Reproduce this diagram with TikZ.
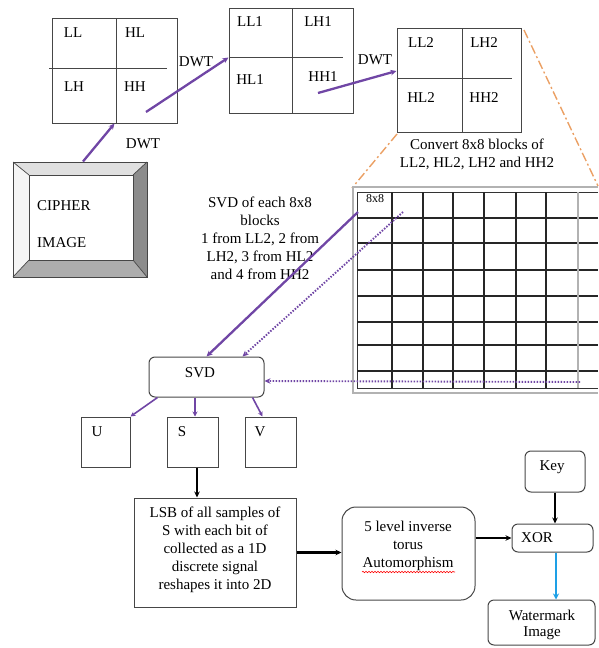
\documentclass[tikz,border=0pt]{standalone}
\usepackage{fontspec}
\setmainfont{Liberation Serif}
\usetikzlibrary{arrows.meta,decorations.pathmorphing,calc}
\definecolor{pur}{RGB}{112,70,165}
\definecolor{org}{RGB}{235,160,100}
\definecolor{bl}{RGB}{30,160,230}
\definecolor{bx}{RGB}{70,70,70}
\tikzset{
  box/.style={draw=bx, line width=1pt, inner sep=0pt},
  rbox/.style={box, rounded corners=6pt},
  txt/.style={font=\fontsize{15}{18}\selectfont, inner sep=0pt, align=center},
  parr/.style={draw=pur, line width=2.3pt, -{Stealth[length=6pt,width=5.5pt]}},
  parrs/.style={draw=pur, line width=1.6pt, -{Stealth[length=5pt,width=5pt]}},
  pdot/.style={draw=pur, line width=1.9pt, dash pattern=on 1.5pt off 1.5pt, -{Stealth[length=6pt,width=5.5pt]}},
  karr/.style={draw=black, line width=2.2pt, -{Stealth[length=6pt,width=5.5pt]}},
  barr/.style={draw=bl, line width=2.6pt, -{Stealth[length=6pt,width=6pt]}},
  orng/.style={draw=org, line width=1.4pt, dash pattern=on 9pt off 3pt on 2pt off 3pt},
}
\begin{document}
\begin{tikzpicture}[x=1pt,y=-1pt]
\useasboundingbox (0,0) rectangle (598,648);

% ---- first DWT block
\node[box, minimum width=125pt, minimum height=105pt] (q1) at (114.5,70.5) {};
\draw[bx, line width=1pt] (116,18) -- (116,123);
\draw[bx, line width=1pt] (49,68) -- (167,68);
\node[txt] at (73,33) {LL};
\node[txt] at (135,33) {HL};
\node[txt] at (74,87) {LH};
\node[txt] at (135,87) {HH};

% ---- second DWT block
\node[box, minimum width=124pt, minimum height=105pt] (q2) at (291,60.5) {};
\draw[bx, line width=1pt] (292,8) -- (292,113);
\draw[bx, line width=1pt] (229,57) -- (343,57);
\node[txt] at (250,22) {LL1};
\node[txt] at (318,22) {LH1};
\node[txt] at (250,80) {HL1};
\node[txt] at (323,77) {HH1};

% ---- third DWT block
\node[box, minimum width=124pt, minimum height=104pt] (q3) at (459,80) {};
\draw[bx, line width=1pt] (462,28) -- (462,132);
\draw[bx, line width=1pt] (397,78) -- (512,78);
\node[txt] at (421,43) {LL2};
\node[txt] at (484,43) {LH2};
\node[txt] at (421,98) {HL2};
\node[txt] at (484,98) {HH2};
\node[txt] at (477,154) {Convert 8x8 blocks of\\LL2, HL2, LH2 and HH2};

% ---- cipher image
\fill[black!4] (13,162) -- (29,175) -- (29,260) -- (13,277) -- cycle;
\fill[black!12] (13,162) -- (147,162) -- (133,175) -- (29,175) -- cycle;
\fill[black!45] (147,162) -- (147,277) -- (133,260) -- (133,175) -- cycle;
\fill[black!32] (13,277) -- (147,277) -- (133,260) -- (29,260) -- cycle;
\draw[bx, line width=0.7pt] (13,162) -- (29,175) (147,162) -- (133,175) (147,277) -- (133,260) (13,277) -- (29,260);
\draw[bx, line width=1pt, fill=white] (29,175) rectangle (133,260);
\node[box, minimum width=134pt, minimum height=115pt] (ci) at (80,219.5) {};
\node[txt, anchor=west] at (37,206) {CIPHER};
\node[txt, anchor=west] at (37,243) {IMAGE};

% ---- DWT arrows
\coordinate (a1) at (146,112);
\coordinate (a2) at (318,93);
\draw[parr] ([xshift=3pt]ci.north) -- (q1.south);
\draw[parr] (a1) -- ([yshift=3pt]q2.west);
\draw[parr] (a2) -- ([yshift=9pt]q3.west);
\node[txt] at (143,144) {DWT};
\node[txt] at (196,62) {DWT};
\node[txt] at (375,60) {DWT};

% ---- orange zoom lines
\draw[orng] (397,134) -- (352,188);
\draw[orng] (524,30) -- (598,186);

% ---- grid of 8x8 blocks
\draw[gray!60, line width=1.4pt] (598,187) -- (353,187) -- (353,393) -- (598,393);
\draw[black!80, line width=1pt] (598,192) -- (357,192) -- (357,388) -- (598,388);
\foreach \yy in {218,243,270,296,322,345,371}
  \draw[black!85, line width=1.1pt] (357,\yy) -- (598,\yy);
\foreach \xx in {392,423,453,484,516,546}
  \draw[black!85, line width=1.1pt] (\xx,192) -- (\xx,388);
\draw[gray!60, line width=1.4pt] (578,192) -- (578,388);
\node[font=\fontsize{12}{14}\selectfont, inner sep=0pt] at (375,199) {8x8};
\coordinate (gA) at (358,212);
\coordinate (gB) at (403,212);
\coordinate (gC) at (580,382);

% ---- SVD text
\node[txt] at (260,238) {SVD of each 8x8\\blocks\\1 from LL2, 2 from\\LH2, 3 from HL2\\and 4 from HH2};

% ---- SVD and outputs
\node[rbox, minimum width=115pt, minimum height=40pt] (svd) at (206.5,377) {};
\node[txt] at (200,373) {SVD};
\draw[parr] (gA) -- (svd.north);
\draw[pdot] (gB) -- ([xshift=-22pt]svd.north east);
\draw[pdot] (gC) -- ([yshift=-4pt]svd.east);

\node[box, minimum width=49pt, minimum height=50pt] (u) at (105.5,442) {};
\node[box, minimum width=51pt, minimum height=50pt] (s) at (192.5,442) {};
\node[box, minimum width=51pt, minimum height=50pt] (v) at (270.5,442) {};
\node[txt] at (97,432) {U};
\node[txt] at (182,432) {S};
\node[txt] at (260,432) {V};
\draw[parrs] ([xshift=9pt]svd.south west) -- (u.north east);
\draw[parrs] ([xshift=2.5pt]s.north |- svd.south) -- ([xshift=2.5pt]s.north);
\draw[parrs] ([xshift=-12pt]svd.south east) -- ([xshift=-8pt]v.north);

% ---- LSB
\node[box, minimum width=162pt, minimum height=109pt] (lsb) at (215,552.5) {};
\node[txt] at (215,550) {LSB of all samples of\\S with each bit of\\collected as a 1D\\discrete signal\\reshapes it into 2D};
\draw[karr] ([xshift=4.5pt]s.south) -- ([xshift=4.5pt]s.south |- lsb.north);

% ---- torus
\node[rbox, rounded corners=14pt, minimum width=133pt, minimum height=93pt] (tor) at (408.5,553.5) {};
\node[txt] at (408,546) {5 level inverse\\torus\\Automorphism};
\draw[red, line width=0.6pt, decorate, decoration={snake, amplitude=0.7pt, segment length=3pt}] (362,572) -- (455,572);
\draw[karr] (lsb.east) -- (lsb.east -| tor.west);

% ---- XOR, key, watermark
\node[rbox, minimum width=81pt, minimum height=28pt] (xor) at (552.5,538) {};
\node[txt] at (537,538) {XOR};
\node[rbox, minimum width=60pt, minimum height=41pt] (key) at (555,471.5) {};
\node[txt] at (552,467) {Key};
\node[rbox, minimum width=107pt, minimum height=45pt] (wm) at (541.5,622.5) {};
\node[txt, font=\fontsize{15}{16}\selectfont] at (542,625) {Watermark\\Image};
\draw[karr] (xor.west -| tor.east) -- (xor.west);
\draw[karr] (key.south) -- (key.south |- xor.north);
\draw[barr] ([xshift=3.5pt]xor.south) -- ([xshift=3.5pt]xor.south |- wm.north);
\end{tikzpicture}
\end{document}
